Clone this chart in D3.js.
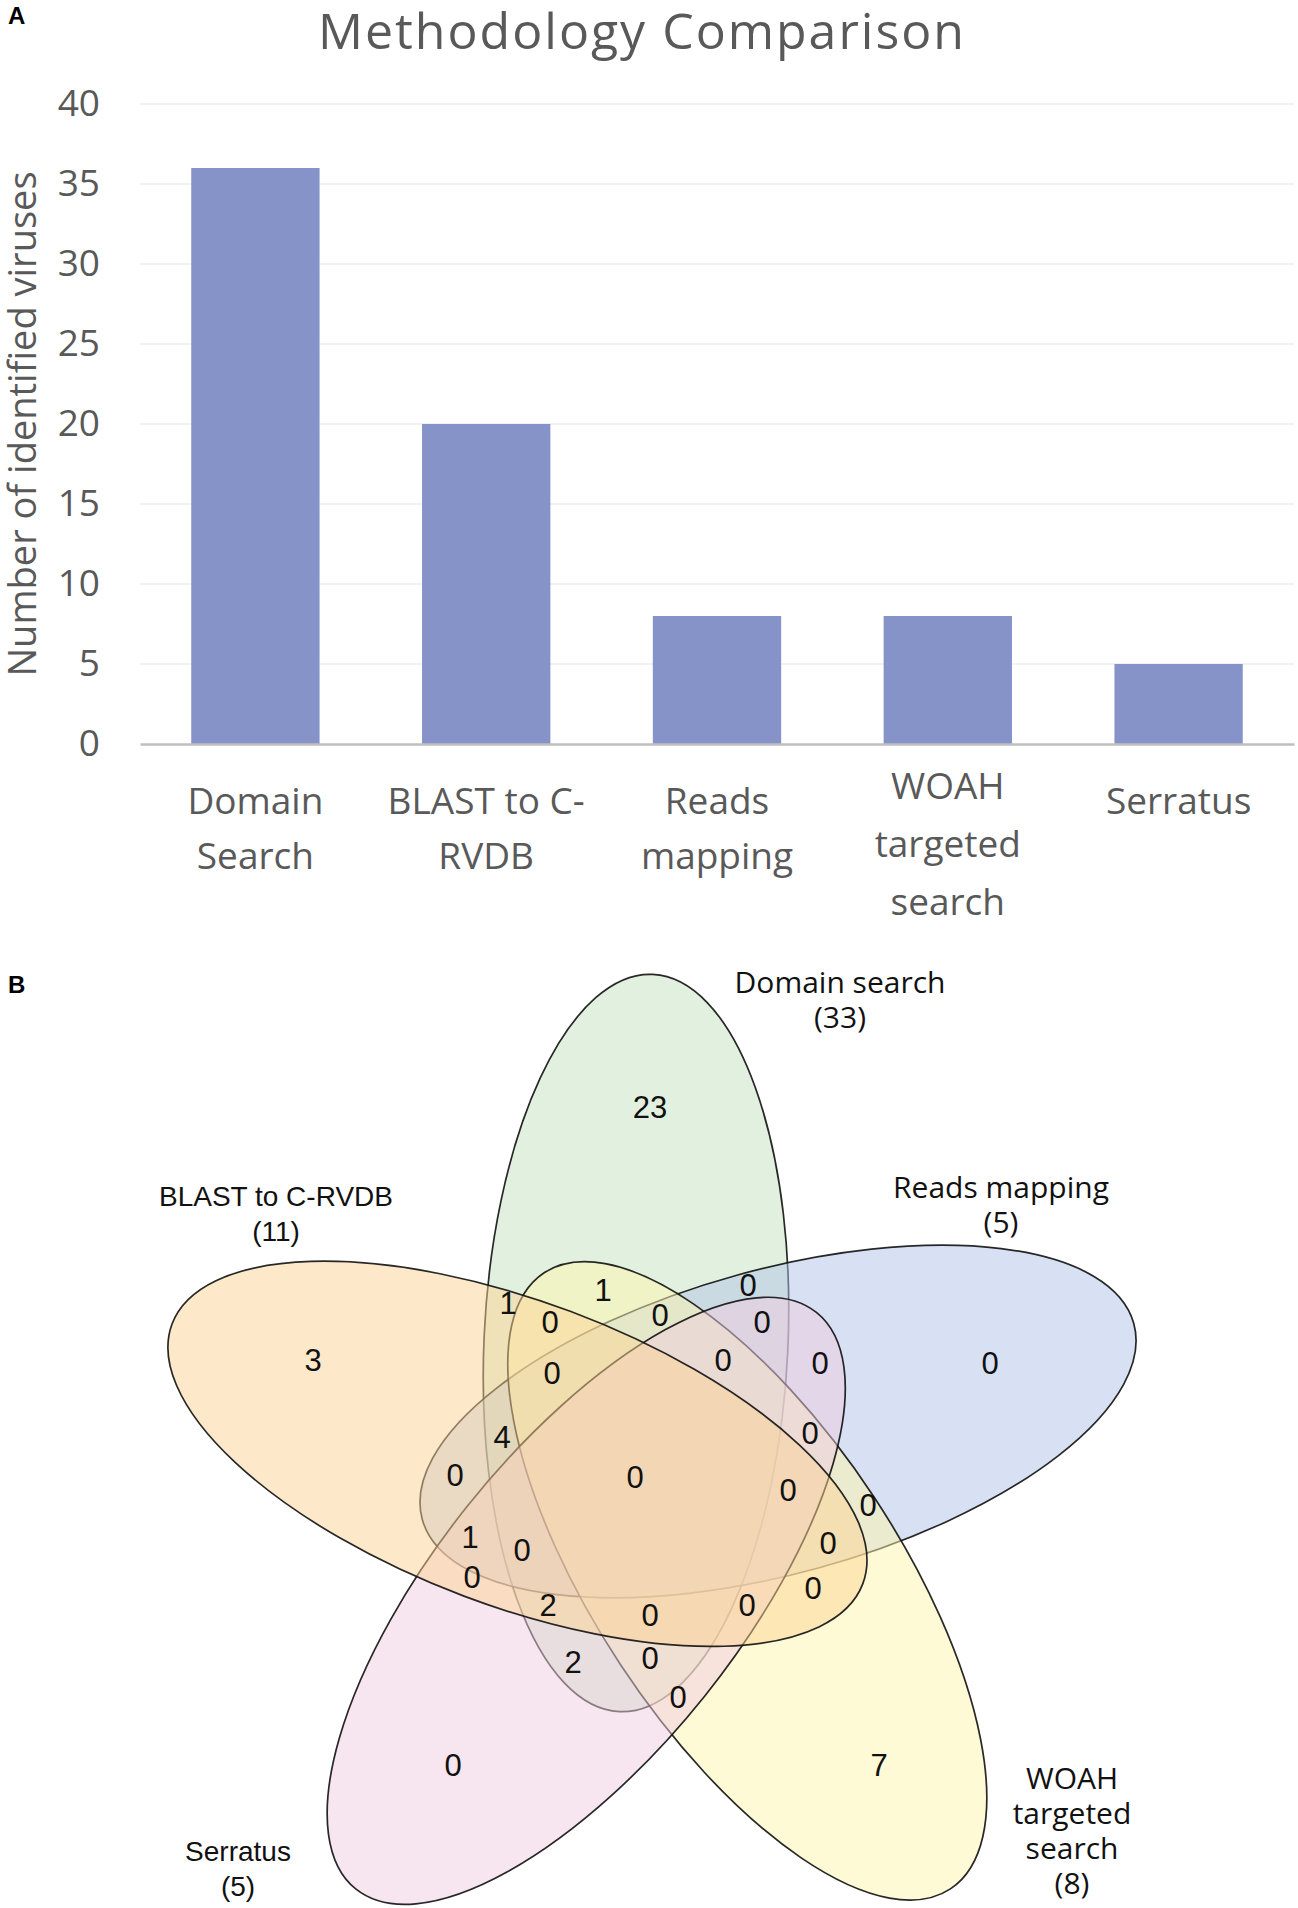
<!DOCTYPE html>
<html>
<head>
<meta charset="utf-8">
<script src="https://cdn.jsdelivr.net/npm/d3@7"></script>
<style>
  body { margin: 0; background: #fff; }
  svg { display: block; }
</style>
</head>
<body>
<div id="vis-container"></div>
<script>
// ---- panel A data
const methods = ["Domain Search", "BLAST to C-RVDB", "Reads mapping", "WOAH targeted search", "Serratus"];
const methodLines = [["Domain", "Search"], ["BLAST to C-", "RVDB"], ["Reads", "mapping"], ["WOAH", "targeted", "search"], ["Serratus"]];
const virusCounts = [36, 20, 8, 8, 5];
const yTicks = [0, 5, 10, 15, 20, 25, 30, 35, 40];

// ---- panel B data (order: top, right, lower right, lower left, left)
const setNames = ["Domain search", "Reads mapping", "WOAH targeted search", "Serratus", "BLAST to C-RVDB"];
const setLabelLines = [["Domain search"], ["Reads mapping"], ["WOAH", "targeted", "search"], ["Serratus"], ["BLAST to C-RVDB"]];
const setTotals = [33, 5, 8, 5, 11];
const setColors = ["#c5e1bf", "#b1c3e7", "#fdf5ad", "#efcbdf", "#fbd393"];
const regionCounts = [23, 1, 1, 0, 0, 0, 0, 3, 0, 0, 0, 0, 4, 0, 0, 0, 0, 0, 1, 0, 0, 0, 0, 2, 0, 0, 2, 0, 0, 0, 7];

// venn layout, in diagram units (0..1)
const regionPos = [
  [0.500, 0.197], [0.453, 0.380], [0.358, 0.393], [0.400, 0.412], [0.510, 0.405],
  [0.598, 0.375], [0.612, 0.412], [0.163, 0.450], [0.402, 0.463], [0.573, 0.450],
  [0.670, 0.453], [0.840, 0.453], [0.352, 0.527], [0.660, 0.523], [0.305, 0.565],
  [0.485, 0.567], [0.638, 0.580], [0.718, 0.595], [0.320, 0.627], [0.372, 0.640],
  [0.678, 0.633], [0.322, 0.667], [0.663, 0.678], [0.398, 0.695], [0.597, 0.695],
  [0.500, 0.705], [0.423, 0.752], [0.500, 0.748], [0.528, 0.787], [0.303, 0.855],
  [0.729, 0.855]
];
const setLabelPos = [[0.690, 0.083], [0.851, 0.288], [0.922, 0.879], [0.088, 0.951], [0.126, 0.296]];
const sansLabel = [false, false, false, true, true];

const width = 1298, height = 1908;

const svg = d3.select("#vis-container")
  .append("svg")
    .attr("width", width)
    .attr("height", height);

const gray = "#595959";
const excelFont = "'Open Sans', 'Noto Sans', sans-serif";
const arial = "'Liberation Sans', Arial, sans-serif";

// ================= panel A =================
const x = d3.scaleBand()
  .domain(methods)
  .range([140, 1294])
  .paddingInner(0.444)
  .paddingOuter(0.222);

const y = d3.scaleLinear()
  .domain([0, 40])
  .range([744, 104]);

svg.append("text")
  .attr("x", 8).attr("y", 24)
  .style("font-family", arial).style("font-weight", "bold").style("font-size", "24px")
  .text("A");

svg.append("text")
  .attr("x", 642).attr("y", 49)
  .attr("text-anchor", "middle")
  .style("font-family", excelFont).style("font-size", "50px")
  .style("letter-spacing", "2px")
  .style("fill", gray)
  .text("Methodology Comparison");

// gridlines
svg.append("g")
  .selectAll("line")
  .data(yTicks.filter(d => d > 0))
  .join("line")
    .attr("x1", 140).attr("x2", 1294)
    .attr("y1", d => y(d)).attr("y2", d => y(d))
    .style("stroke", "#ececec").style("stroke-width", 1.5);

// bars
svg.append("g")
  .selectAll("rect")
  .data(virusCounts)
  .join("rect")
    .attr("x", (d, i) => x(methods[i]))
    .attr("y", d => y(d))
    .attr("width", x.bandwidth())
    .attr("height", d => y(0) - y(d))
    .style("fill", "#8693c8");

// y axis labels
const yAxis = svg.append("g")
  .attr("transform", "translate(100, 0)")
  .call(d3.axisLeft(y).tickValues(yTicks).tickSize(0).tickPadding(0));
yAxis.select(".domain").remove();
yAxis.selectAll("text")
  .style("font-family", excelFont).style("font-size", "37px")
  .style("fill", gray);

// x axis
const xAxis = svg.append("g")
  .attr("transform", `translate(0, ${y(0)})`)
  .call(d3.axisBottom(x).tickSize(0).tickFormat(""));
xAxis.select(".domain")
  .style("stroke", "#bfbfbf").style("stroke-width", 2.5);

const xLab = svg.append("g");
methods.forEach((m, i) => {
  const lines = methodLines[i];
  const top = 814 - (lines.length > 2 ? 15 : 0);
  const step = lines.length > 2 ? 58 : 55;
  const t = xLab.append("text")
    .attr("text-anchor", "middle")
    .style("font-family", excelFont).style("font-size", "37px")
    .style("fill", gray);
  lines.forEach((l, j) => {
    t.append("tspan")
      .attr("x", x(m) + x.bandwidth() / 2)
      .attr("y", top + j * step)
      .text(l);
  });
});

svg.append("text")
  .attr("transform", `translate(36, ${(y(0) + y(40)) / 2}) rotate(-90)`)
  .attr("text-anchor", "middle")
  .style("font-family", excelFont).style("font-size", "38px")
  .style("fill", gray)
  .text("Number of identified viruses");

// ================= panel B =================
svg.append("text")
  .attr("x", 8).attr("y", 993)
  .style("font-family", arial).style("font-weight", "bold").style("font-size", "24px")
  .text("B");

const vx = d3.scaleLinear().domain([0, 1]).range([150, 1150]);
const vy = d3.scaleLinear().domain([0, 1]).range([910, 1910]);

// one ellipse, rotated by 72 degrees for each set
const vennCenter = [0.503, 0.57];
const ellCenter = [0.486, 0.433];
const ellR = [0.152, 0.369];
const ellTilt = 2.6;

const venn = svg.append("g");
venn.selectAll("ellipse")
  .data(setNames)
  .join("ellipse")
    .attr("cx", vx(ellCenter[0]))
    .attr("cy", vy(ellCenter[1]))
    .attr("rx", vx(ellR[0]) - vx(0))
    .attr("ry", vy(ellR[1]) - vy(0))
    .attr("transform", (d, i) =>
      `rotate(${72 * i}, ${vx(vennCenter[0])}, ${vy(vennCenter[1])}) rotate(${ellTilt}, ${vx(ellCenter[0])}, ${vy(ellCenter[1])})`)
    .style("fill", (d, i) => setColors[i])
    .style("fill-opacity", 0.5)
    .style("stroke", "#111")
    .style("stroke-opacity", 0.9)
    .style("stroke-width", 1.7);

// region counts
venn.append("g")
  .selectAll("text")
  .data(regionCounts)
  .join("text")
    .attr("x", (d, i) => vx(regionPos[i][0]))
    .attr("y", (d, i) => vy(regionPos[i][1]))
    .attr("text-anchor", "middle")
    .attr("dy", "0.36em")
    .style("font-family", arial).style("font-size", "31px")
    .style("fill", "#111")
    .text(d => d);

// set labels
setNames.forEach((s, i) => {
  const lines = setLabelLines[i].concat([`(${setTotals[i]})`]);
  const t = venn.append("text")
    .attr("text-anchor", "middle")
    .style("font-family", sansLabel[i] ? arial : excelFont)
    .style("font-size", sansLabel[i] ? "28px" : "30px")
    .style("fill", "#111");
  lines.forEach((l, j) => {
    t.append("tspan")
      .attr("x", vx(setLabelPos[i][0]))
      .attr("y", vy(setLabelPos[i][1]) + j * 35)
      .text(l);
  });
});
</script>
</body>
</html>
